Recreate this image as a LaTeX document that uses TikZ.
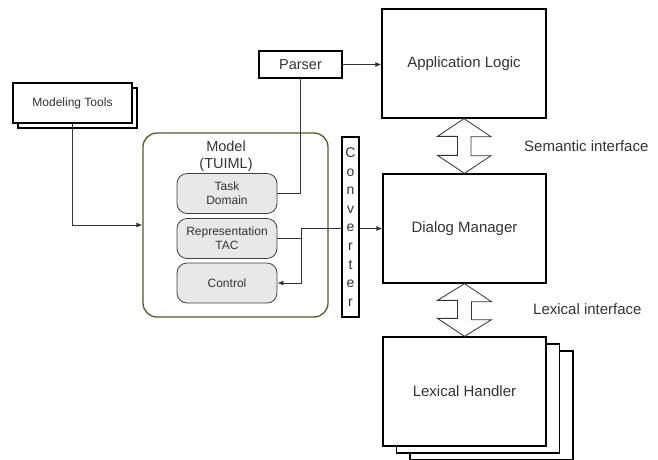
\documentclass[tikz,border=0pt]{standalone}
\usepackage{fontspec}
\setmainfont{Liberation Sans}
\usetikzlibrary{arrows.meta}
\definecolor{modelolive}{RGB}{88,88,40}
\definecolor{partgray}{RGB}{232,232,232}
\definecolor{labelgray}{RGB}{51,51,51}

\begin{document}
\begin{tikzpicture}[x=1pt,y=-1pt,
  every node/.style={text=labelgray, inner sep=0pt},
  block/.style={draw=black, line width=1.3pt, fill=white, minimum width=163pt, minimum height=109pt, font=\fontsize{15}{18}\selectfont},
  smallblock/.style={draw=black, line width=1.1pt, fill=white},
  part/.style={draw=black!75, line width=0.8pt, fill=partgray, rounded corners=10pt, minimum width=100pt, minimum height=40pt, align=center, font=\fontsize{12}{14}\selectfont},
  link/.style={draw=black!80, line width=0.8pt},
  arr/.style={link, -{Latex[length=6pt,width=5pt]}},
  iface/.style={draw=black!80, line width=0.8pt, fill=white},
  note/.style={font=\fontsize{15}{18}\selectfont}]
\useasboundingbox (0,0) rectangle (658,459);

% modeling tools (with copy behind)
\node [smallblock, minimum width=119pt, minimum height=40pt] (toolsback) at (77.5,108) {};
\node [smallblock, minimum width=119pt, minimum height=40pt, font=\fontsize{12}{14}\selectfont] (tools) at (72.5,103) {Modeling Tools};

% model and its parts
\node [draw=modelolive, line width=1.3pt, rounded corners=14pt, minimum width=185pt, minimum height=184pt] (model) at (235.5,225) {};
\node [align=center, font=\fontsize{14.5}{17}\selectfont] (modellabel) at (226,156.5) {Model\\(TUIML)};
\node [part] (task) at (227,193.5) {Task\\Domain};
\node [part] (rep) at (227,238.5) {Representation\\TAC};
\node [part] (ctrl) at (227,283) {Control};

% parser
\node [smallblock, minimum width=83pt, minimum height=27pt, font=\fontsize{14.5}{17}\selectfont] (parser) at (300.5,64.5) {Parser};

% main blocks
\node [block, minimum width=164pt] (app) at (464,63.5) {Application Logic};
\node [block] (dm) at (464.5,228.5) {Dialog Manager};
\node [block] (lex3) at (491.5,405.5) {};
\node [block] (lex2) at (478,398.5) {};
\node [block] (lex) at (464.5,391.5) {Lexical Handler};

% interfaces
\draw [iface] (app.south) -- ++(27,18) -- ++(-20,0) -- ++(0,19) -- ++(20,0) -- (dm.north)
  -- ++(-27,-18) -- ++(20,0) -- ++(0,-19) -- ++(-20,0) -- cycle;
\draw [iface] (dm.south) -- ++(27,18) -- ++(-20,0) -- ++(0,18) -- ++(20,0) -- (lex.north)
  -- ++(-27,-18) -- ++(20,0) -- ++(0,-18) -- ++(-20,0) -- cycle;
\node [note, anchor=west] (semantic) at (524,146) {Semantic interface};
\node [note, anchor=west] (lexical) at (533,309) {Lexical interface};

% connectors
\draw [arr] (tools.south) |- (model.west);
\draw [arr] (parser.east) -- (parser.east -| app.west);
\draw [link] (task.east) -| (parser.south);
\coordinate (split) at (301,238.5);
\draw [arr] (rep.east) -- (split) |- (dm.west);
\draw [arr] (split) |- (ctrl.east);

% converter on top of the line
\node [smallblock, minimum width=17pt, minimum height=180pt, align=center, font=\fontsize{14}{18.6}\selectfont] (conv) at (350.5,227) {C\\o\\n\\v\\e\\r\\t\\e\\r};
\end{tikzpicture}
\end{document}
